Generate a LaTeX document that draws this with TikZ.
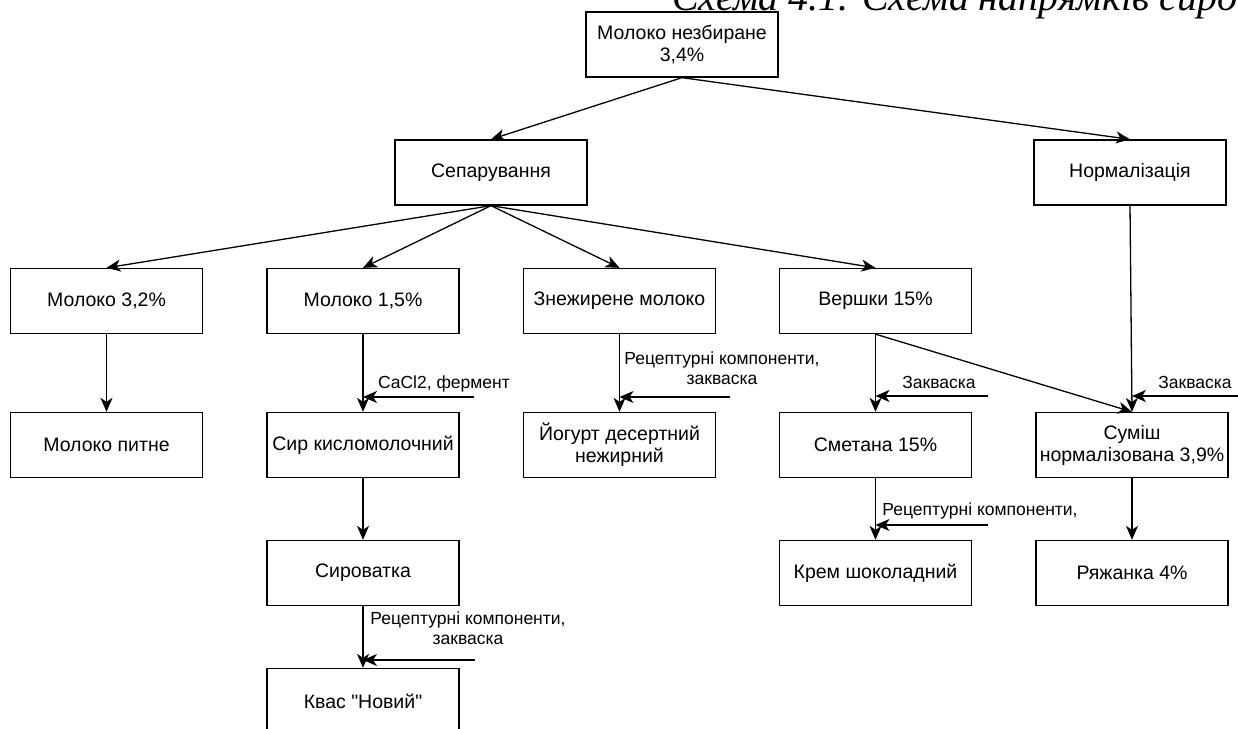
\documentclass[tikz,border=0pt]{standalone}
\usepackage{fontspec}
\setmainfont{Liberation Sans}
\newfontfamily\boxfont{Liberation Sans}
\newfontfamily\titlefont{Liberation Serif}
\usetikzlibrary{arrows.meta}

\tikzset{
  box/.style={draw, rectangle, line width=1.3pt, minimum width=192pt, minimum height=65pt,
    align=center, inner sep=2pt, font=\boxfont\fontsize{19.5}{22}\selectfont},
  note/.style={align=center, inner sep=0pt, font=\boxfont\fontsize{17.5}{20}\selectfont},
  flow/.style={-{Stealth[length=14pt,width=12pt,inset=4pt]}, line width=1.3pt},
}

\begin{document}
\begin{tikzpicture}[x=1pt,y=-1pt]
      \useasboundingbox (0,0) rectangle (1238,728);
      \clip (0,0) rectangle (1238,728);
      \node[anchor=base west, inner sep=0pt, font=\titlefont\itshape\fontsize{40}{44}\selectfont]
        (title) at (672,10) {Схема 4.1. Схема напрямків сировини};
      \draw
        (682,44.5) node[box] (raw){Молоко незбиране\\3,4\%}
        (491,172.5) node[box] (sep){Сепарування}
        (1130,172.5) node[box] (norm){Нормалізація}
        (106.5,301) node[box] (m32){Молоко 3,2\%}
        (363,301) node[box] (m15){Молоко 1,5\%}
        (619.5,301) node[box] (skim){Знежирене молоко}
        (875.5,301) node[box] (cream){Вершки 15\%}
        (106.5,445) node[box] (drink){Молоко питне}
        (363,445) node[box] (curd){Сир кисломолочний}
        (619.5,445) node[box] (yog){Йогурт десертний\\нежирний}
        (875.5,445) node[box] (sour){Сметана 15\%}
        (1132,445) node[box] (mix){Суміш\\нормалізована 3,9\%}
        (363,573) node[box] (whey){Сироватка}
        (875.5,573) node[box] (choc){Крем шоколадний}
        (1132,573) node[box] (ryaz){Ряжанка 4\%}
        (363,701) node[box] (kvas){Квас "Новий"};
      \path
        (378,388) node[note, anchor=base west] (lcacl){CaCl2, фермент}
        (722,368) node[note] (lyog){Рецептурні компоненти,\\закваска}
        (939,382) node[note] (lsour){Закваска}
        (1195,382) node[note] (lmix){Закваска}
        (980,511) node[note] (lchoc){Рецептурні компоненти,}
        (468,628) node[note] (lkvas){Рецептурні компоненти,\\закваска};
      \coordinate (incacl) at (474,397);
      \coordinate (inyog) at (730,397);
      \coordinate (insour) at (988,396);
      \coordinate (inmix) at (1240,396);
      \coordinate (inchoc) at (988,525);
      \coordinate (inkvas) at (475,660);
      \begin{scope}[flow]
        \draw (raw.south) to (sep.north);
        \draw (raw.south) to (norm.north);
        \draw (sep.south) to (m32.north);
        \draw (sep.south) to (m15.north);
        \draw (sep.south) to (skim.north);
        \draw (sep.south) to (cream.north);
        \draw (norm.south) to (mix.north);
        \draw (m32) to (drink);
        \draw (m15) to (curd);
        \draw (curd) to (whey);
        \draw (whey) to (kvas);
        \draw (skim) to (yog);
        \draw (cream) to (sour);
        \draw (cream.south) to (mix.north);
        \draw (sour) to (choc);
        \draw (mix) to (ryaz);
        \draw (incacl) to (incacl -| curd.north);
        \draw (inyog) to (inyog -| yog.north);
        \draw (insour) to (insour -| sour.north);
        \draw (inmix) to (inmix -| mix.north);
        \draw (inchoc) to (inchoc -| choc.north);
        \draw (inkvas) to (inkvas -| kvas.north);
      \end{scope}
    \end{tikzpicture}
\end{document}
